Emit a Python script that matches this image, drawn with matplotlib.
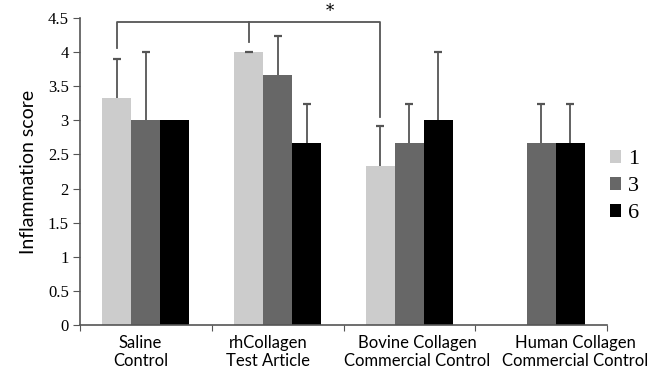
import numpy as np
import matplotlib.pyplot as plt

# data
categories = ['Saline\nControl', 'rhCollagen\nTest Article',
              'Bovine Collagen\nCommercial Control', 'Human Collagen\nCommercial Control']
series = ['1', '3', '6']
scores = {
    '1': [3.33, 4.0, 2.33, 0.0],
    '3': [3.0, 3.67, 2.67, 2.67],
    '6': [3.0, 2.67, 3.0, 2.67],
}
errors = {
    '1': [0.57, 0.0, 0.58, 0.0],
    '3': [1.0, 0.57, 0.57, 0.57],
    '6': [0.0, 0.57, 1.0, 0.57],
}
colors = ['#cccccc', '#676767', '#000000']
yticks = [0, 0.5, 1, 1.5, 2, 2.5, 3, 3.5, 4, 4.5]

fig = plt.figure(figsize=(6.58, 3.75), dpi=100)
ax = fig.add_axes([0.1216, 0.1333, 0.801, 0.819])

err_col = '#555555'
centers = np.arange(len(categories)) + 0.5
w = 0.22
for k, s in enumerate(series):
    xs = centers + (k - 1) * w
    vals = np.array(scores[s])
    errs = np.array(errors[s])
    ax.bar(xs, vals, width=w, color=colors[k], label=s, zorder=2)
    # upper error bars only
    mask = errs > 0
    ax.vlines(xs[mask], vals[mask], vals[mask] + errs[mask], color=err_col, lw=1.3, zorder=1)
    ax.plot(xs[mask], vals[mask] + errs[mask], ls='none', marker='_', ms=6,
            mew=1.6, color=err_col, zorder=1)

# rhCollagen "1" bar: zero-length error bar, cap only
ax.plot(centers[1] - w, scores['1'][1], ls='none', marker='_', ms=6, mew=1.6,
        color=err_col, zorder=3)

# significance bracket between the "1" bars
bx = centers[:3] - w
top = 4.44
ax.plot([bx[0], bx[0], bx[2], bx[2]], [4.06, top, top, 3.05], color=err_col, lw=1.3, clip_on=False)
ax.plot([bx[1], bx[1]], [top, 4.15], color=err_col, lw=1.3, clip_on=False)
ax.text(1.9, top + 0.03, '*', ha='center', va='bottom', fontsize=12, family='DejaVu Serif')

ax.set_xlim(0, 4)
ax.set_ylim(0, 4.5)
ax.set_yticks(yticks)
ax.set_yticklabels([f'{t:g}' for t in yticks], family='Liberation Serif', fontsize=12)
ax.set_xticks([0, 1, 2, 3, 4])
ax.set_xticklabels([])
# category labels sit a little off the group centres in the original
label_x = centers + np.array([-0.04, -0.07, 0.06, 0.26])
ax.set_xticks(label_x, minor=True)
ax.set_xticklabels(categories, minor=True, family='Lato', fontsize=12)
ax.tick_params(axis='x', which='minor', length=0, pad=7)
ax.tick_params(axis='x', which='major', length=4, color=err_col)
ax.tick_params(axis='y', length=5, color=err_col, pad=3)
for side in ['top', 'right']:
    ax.spines[side].set_visible(False)
for side in ['left', 'bottom']:
    ax.spines[side].set_color(err_col)
    ax.spines[side].set_linewidth(1.2)

ax.set_ylabel('Inflammation score', family='Lato', fontsize=14, labelpad=8)

ax.legend(loc='upper left', bbox_to_anchor=(0.985, 0.606), frameon=False,
          prop={'family': 'Liberation Serif', 'size': 16},
          handlelength=0.5, handleheight=0.5, handletextpad=0.3,
          labelspacing=0.35, borderpad=0)

fig.savefig('out.png', dpi=100)
